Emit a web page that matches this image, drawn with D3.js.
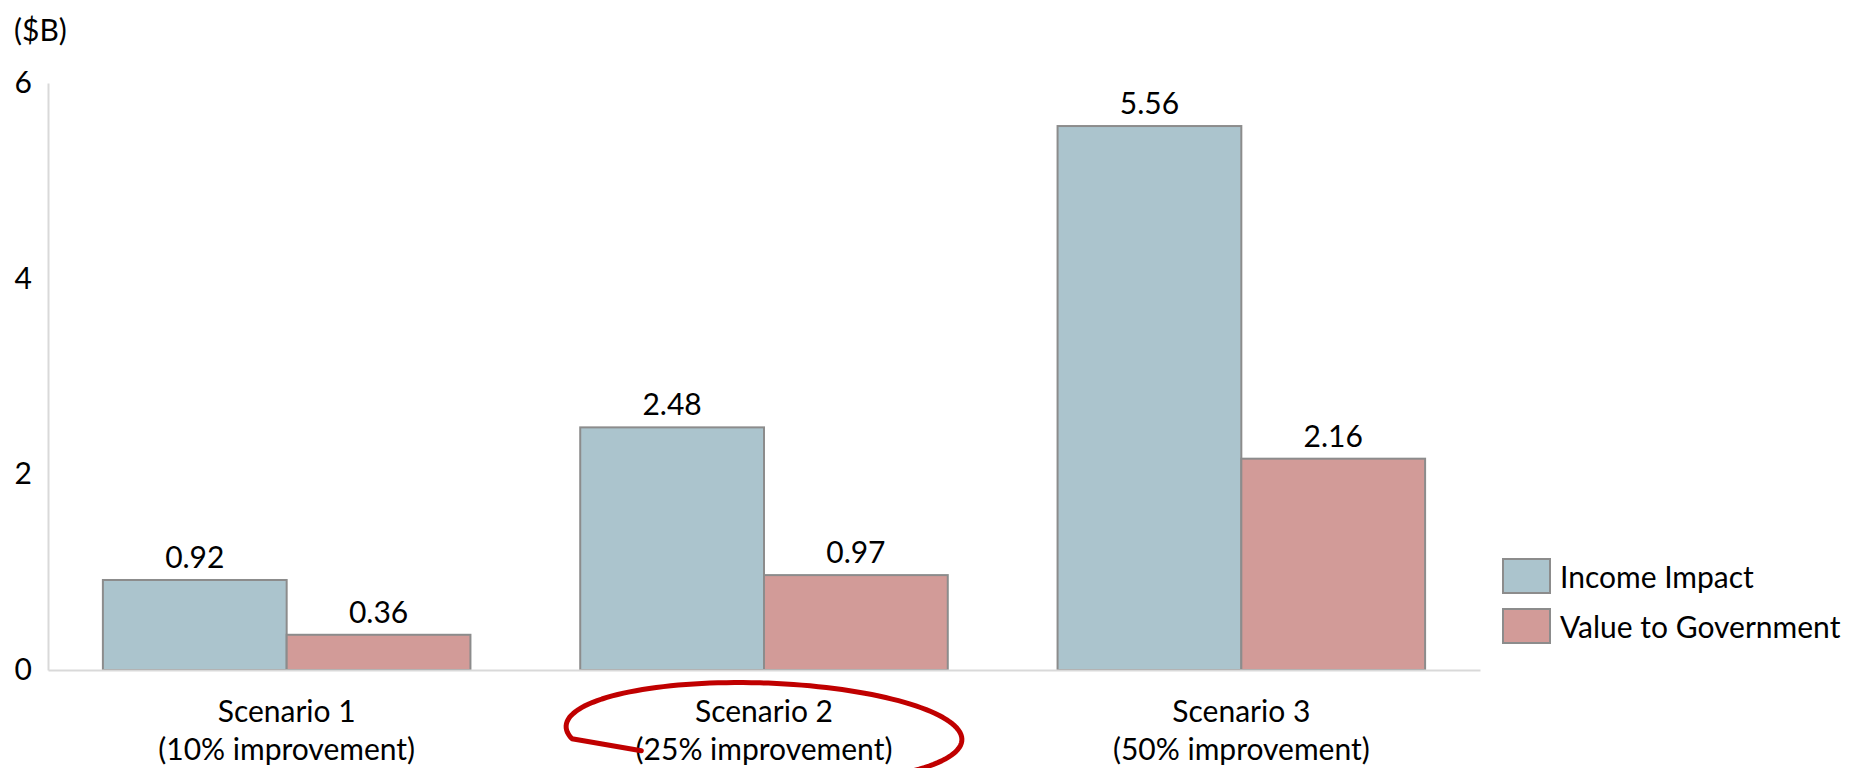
<!DOCTYPE html>
<html lang="en">
<head>
    <meta charset="UTF-8">
    <title>Income Impact and Value to Government by Scenario</title>
    <script src="https://d3js.org/d3.v7.min.js" charset="utf-8"></script>
    <style>
        body, html {
            margin: 0;
            padding: 0;
            background: #ffffff;
            overflow: hidden;
        }
        text {
            font-family: Lato, "Open Sans", sans-serif;
            fill: #000000;
        }
    </style>
</head>
<body>
    <svg id="chart"></svg>

    <script>
        // chart data
        const scenarios = ['Scenario 1', 'Scenario 2', 'Scenario 3'];
        const scenarioNotes = ['(10% improvement)', '(25% improvement)', '(50% improvement)'];
        const seriesNames = ['Income Impact', 'Value to Government'];
        const incomeImpact = [0.92, 2.48, 5.56];
        const valueToGovernment = [0.36, 0.97, 2.16];
        const yTicks = [0, 2, 4, 6];
        const unitLabel = '($B)';
        const highlighted = 'Scenario 2';

        const width = 1870;
        const height = 768;
        const fontSize = 30;

        const colors = {
            'Income Impact': '#ABC4CD',
            'Value to Government': '#D29B98'
        };

        const svg = d3.select('#chart')
            .attr('width', width)
            .attr('height', height);

        // table built from the arrays
        const rows = scenarios.map((s, i) => ({
            scenario: s,
            note: scenarioNotes[i],
            values: [
                { key: seriesNames[0], value: incomeImpact[i] },
                { key: seriesNames[1], value: valueToGovernment[i] }
            ]
        }));

        // scales
        const yScale = d3.scaleLinear()
            .domain([0, 6])
            .range([670, 83]);

        const xScale = d3.scaleBand()
            .domain(scenarios)
            .range([48, 1480])
            .paddingInner(0.23)
            .paddingOuter(0.115);

        const xInner = d3.scaleBand()
            .domain(seriesNames)
            .range([0, xScale.bandwidth()]);

        // unit label
        svg.append('text')
            .attr('x', 14)
            .attr('y', 41)
            .style('font-size', fontSize + 'px')
            .text(unitLabel);

        // y axis (line + labels, no tick marks)
        const yAxis = d3.axisLeft(yScale)
            .tickValues(yTicks)
            .tickSize(0)
            .tickPadding(16)
            .tickFormat(d3.format('d'));

        const yAxisGroup = svg.append('g')
            .attr('transform', 'translate(48,0)')
            .call(yAxis);

        yAxisGroup.select('.domain')
            .attr('stroke', '#D9D9D9')
            .attr('stroke-width', 2);

        yAxisGroup.selectAll('text')
            .style('font-size', fontSize + 'px')
            .style('font-family', 'Lato, "Open Sans", sans-serif')
            .attr('fill', '#000');

        // bars
        const groups = svg.append('g')
            .selectAll('g')
            .data(rows)
            .join('g')
            .attr('transform', d => `translate(${xScale(d.scenario)},0)`);

        groups.selectAll('rect')
            .data(d => d.values)
            .join('rect')
            .attr('x', d => xInner(d.key))
            .attr('y', d => yScale(d.value))
            .attr('width', xInner.bandwidth())
            .attr('height', d => yScale(0) - yScale(d.value))
            .attr('fill', d => colors[d.key])
            .attr('stroke', '#8C8C8C')
            .attr('stroke-width', 2);

        groups.selectAll('text.val')
            .data(d => d.values)
            .join('text')
            .classed('val', true)
            .attr('x', d => xInner(d.key) + xInner.bandwidth() / 2)
            .attr('y', d => yScale(d.value) - 12)
            .attr('text-anchor', 'middle')
            .style('font-size', fontSize + 'px')
            .text(d => d3.format('.2f')(d.value));

        // x axis baseline
        const xAxis = d3.axisBottom(xScale).tickSize(0).tickFormat('');
        const xAxisGroup = svg.append('g')
            .attr('transform', `translate(0,${yScale(0)})`)
            .call(xAxis);
        xAxisGroup.select('.domain')
            .attr('stroke', '#D9D9D9')
            .attr('stroke-width', 2);

        // category labels, two lines
        const catLabels = svg.append('g')
            .selectAll('text')
            .data(rows)
            .join('text')
            .attr('text-anchor', 'middle')
            .style('font-size', fontSize + 'px')
            .attr('transform', d => `translate(${xScale(d.scenario) + xScale.bandwidth() / 2},0)`);

        catLabels.append('tspan')
            .attr('x', 0)
            .attr('y', yScale(0) + 52)
            .text(d => d.scenario);

        catLabels.append('tspan')
            .attr('x', 0)
            .attr('y', yScale(0) + 90)
            .text(d => d.note);

        // legend
        const legend = svg.append('g')
            .attr('transform', 'translate(1503,559)');

        const legendRow = legend.selectAll('g')
            .data(seriesNames)
            .join('g')
            .attr('transform', (d, i) => `translate(0,${i * 50})`);

        legendRow.append('rect')
            .attr('width', 47)
            .attr('height', 34)
            .attr('fill', d => colors[d])
            .attr('stroke', '#8C8C8C')
            .attr('stroke-width', 2);

        legendRow.append('text')
            .attr('x', 57)
            .attr('y', 29)
            .style('font-size', fontSize + 'px')
            .text(d => d);

        // hand-drawn red ellipse around the highlighted scenario label
        const cx = xScale(highlighted) + xScale.bandwidth() / 2;
        const cy = yScale(0) + 63;
        const rx = 198;
        const ry = 50;
        const ring = d3.path();
        const tailX = cx - 122, tailY = yScale(0) + 85;
        ring.moveTo(tailX, tailY);
        const steps = 120;
        const t0 = Math.PI * 0.92;
        const t1 = Math.PI * 2.55;
        for (let k = 0; k <= steps; k++) {
            const t = t0 + (t1 - t0) * k / steps;
            ring.lineTo(cx + rx * Math.cos(t), cy + ry * Math.sin(t));
        }
        svg.append('path')
            .attr('d', ring.toString())
            .attr('fill', 'none')
            .attr('stroke', '#C00000')
            .attr('stroke-width', 5)
            .attr('stroke-linecap', 'round')
            .attr('stroke-linejoin', 'round')
            .attr('transform', `rotate(2,${cx},${cy})`);
    </script>
</body>
</html>
